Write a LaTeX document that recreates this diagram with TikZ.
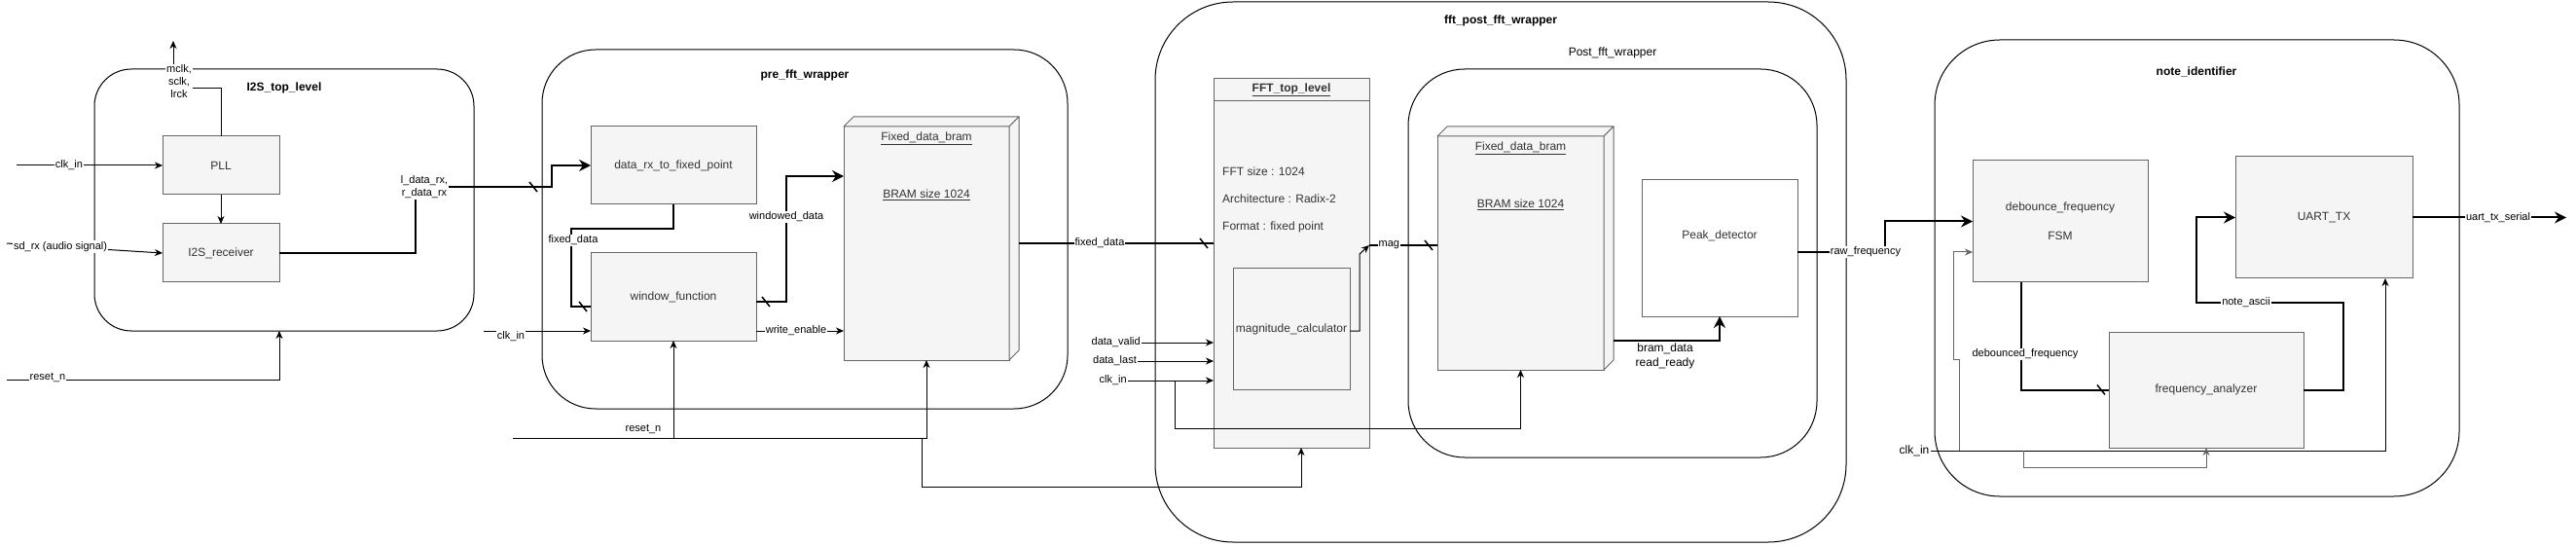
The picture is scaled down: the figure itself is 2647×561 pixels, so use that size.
\documentclass[tikz,border=0pt]{standalone}
\usepackage{fontspec}
\setmainfont{Liberation Sans}
\usetikzlibrary{arrows.meta,calc}
\definecolor{boxfill}{HTML}{F5F5F5}
\definecolor{boxline}{HTML}{666666}
\definecolor{boxtext}{HTML}{333333}
\tikzset{
  cont/.style={draw=black, line width=1pt, inner sep=0pt, outer sep=0pt},
  blk/.style={draw=boxline, fill=boxfill, line width=1pt, text=boxtext, font=\fontsize{12}{14}\selectfont, inner sep=0pt, outer sep=0pt, align=center},
  bramface/.style={draw=boxline, fill=boxfill, line width=1pt, line join=round},
  btxt/.style={text=boxtext, font=\fontsize{12}{14}\selectfont, inner sep=0pt},
  txtl/.style={text=boxtext, font=\fontsize{12}{14}\selectfont, inner sep=0pt, anchor=west},
  ttl/.style={text=black, font=\bfseries\fontsize{12}{14}\selectfont, inner sep=0pt},
  plaintxt/.style={text=black, font=\fontsize{12}{15}\selectfont, inner sep=1pt, align=center},
  lbl/.style={fill=white, text=black, font=\fontsize{11}{13}\selectfont, inner sep=1pt, align=center},
  sig/.style={draw=black, line width=1pt},
  bus/.style={draw=black, line width=2pt},
  arr/.style={-{Stealth[length=8pt,width=7pt,inset=2.5pt]}},
  barr/.style={-{Stealth[length=12pt,width=12pt,inset=4pt]}},
  pics/slashmk/.style={code={\draw[line width=1.5pt] (-4,-5) -- (4,5);}}
}
\begin{document}
\begin{tikzpicture}[x=1pt,y=-1pt]
\useasboundingbox (0,0) rectangle (2647,561);
\fill[white] (0,0) rectangle (2647,561);

% containers
\node[cont, minimum width=390, minimum height=269, rounded corners=38pt] (i2s) at (292,205.5) {};
\node[cont, minimum width=540, minimum height=369, rounded corners=55pt] (pre) at (827,235.5) {};
\node[cont, minimum width=710, minimum height=555, rounded corners=80pt] (fpw) at (1542,279.5) {};
\node[cont, minimum width=420, minimum height=399, rounded corners=58pt] (post) at (1657,270.5) {};
\node[cont, minimum width=539, minimum height=469, rounded corners=67pt] (note) at (2257.5,275.5) {};

\node[ttl] (i2sT) at (292,90) {I2S\_top\_level};
\node[ttl] (preT) at (827,77) {pre\_fft\_wrapper};
\node[ttl] (fpT) at (1542,21) {fft\_post\_fft\_wrapper};
\node[plaintxt] (postT) at (1657,54) {Post\_fft\_wrapper};
\node[ttl] (noteT) at (2257,74) {note\_identifier};

% blocks
\node[blk, minimum width=120, minimum height=60] (pll) at (227,170) {PLL};
\node[blk, minimum width=120, minimum height=60] (rx) at (227,260) {I2S\_receiver};
\node[blk, minimum width=170, minimum height=80] (dfp) at (692,170) {data\_rx\_to\_fixed\_point};
\node[blk, minimum width=170, minimum height=90] (wf) at (692,305) {window\_function};

\node[blk, minimum width=170, minimum height=240] (bram1) at (952,250) {};
\draw[bramface] (bram1.north west) -- ++(10,-10) -- ($(bram1.north east)+(10,-10)$) -- (bram1.north east) -- cycle;
\draw[bramface] (bram1.north east) -- ++(10,-10) -- ($(bram1.south east)+(10,-10)$) -- (bram1.south east) -- cycle;
\node[btxt] (b1a) at (952,142) {\underline{Fixed\_data\_bram}};
\node[btxt] (b1b) at (952,200) {\underline{BRAM size 1024}};

\node[blk, minimum width=160, minimum height=379] (fft) at (1327,270.5) {};
\draw[draw=boxline, line width=1pt] (fft.north west |- 0,104) -- (fft.north east |- 0,104);
\node[btxt, font=\bfseries\fontsize{12}{14}\selectfont] (fftT) at (1327,92.5) {\underline{FFT\_top\_level}};
\node[txtl] (f1) at (1256,176) {FFT size : 1024};
\node[txtl] (f2) at (1256,204) {Architecture : Radix-2};
\node[txtl] (f3) at (1256,233) {Format : fixed point};
\node[blk, minimum width=120, minimum height=124] (mag) at (1327,338) {magnitude\_calculator};

\node[blk, minimum width=171, minimum height=240] (bram2) at (1562.5,260) {};
\draw[bramface] (bram2.north west) -- ++(10,-10) -- ($(bram2.north east)+(10,-10)$) -- (bram2.north east) -- cycle;
\draw[bramface] (bram2.north east) -- ++(10,-10) -- ($(bram2.south east)+(10,-10)$) -- (bram2.south east) -- cycle;
\node[btxt] (b2a) at (1562.5,152) {\underline{Fixed\_data\_bram}};
\node[btxt] (b2b) at (1562.5,210) {\underline{BRAM size 1024}};

\node[blk, fill=white, minimum width=160, minimum height=140] (peak) at (1767,255) {};
\node[btxt] (peakT) at (1767,242) {Peak\_detector};

\node[blk, minimum width=180, minimum height=125] (deb) at (2117,227.5) {};
\node[btxt] (debA) at (2117,213) {debounce\_frequency};
\node[btxt] (debB) at (2117,242) {FSM};
\node[blk, minimum width=200, minimum height=119] (fa) at (2267,400.5) {frequency\_analyzer};
\node[blk, minimum width=182, minimum height=125] (uart) at (2388,223.5) {UART\_TX};

% ---- I2S connectors
\coordinate (clkA) at (17,170);
\draw[sig,arr] (clkA) -- node[lbl,pos=0.36]{clk\_in} (pll.west);
\coordinate (sdA) at (7,250);
\draw[sig,arr] (sdA) -- node[lbl,pos=0.344]{sd\_rx (audio signal)} (rx.west);
\draw[sig,arr] (pll.south) -- (rx.north);
\node[lbl, font=\fontsize{11}{13}\selectfont] (mclk) at (184,84) {mclk,\\sclk,\\lrck};
\draw[sig] (pll.north) |- ($(mclk.east)+(0,7)$);
\coordinate (mclkOut) at (178,42);
\draw[sig,arr] (mclkOut |- mclk.north) -- (mclkOut);
\node[lbl] (ldata) at (436,192) {l\_data\_rx,\\r\_data\_rx};
\draw[bus] (rx.east) -| ([xshift=-9pt]ldata.south);
\draw[bus,barr] (ldata.east) -- (567,192) |- (dfp.west);
\pic at (548,192) {slashmk};
\coordinate (rstA) at (7,390);
\draw[sig,arr] (rstA) -| (i2s.south -| 287,0);
\node[lbl] (rstAl) at (49,388) {reset\_n};

% ---- pre_fft connectors
\draw[bus] (dfp.south) -- ++(0,25) -| (587,315) -- (wf.west |- 0,315);
\node[lbl] (fdl) at (589,247) {fixed\_data};
\pic at (599,315) {slashmk};
\draw[bus,barr] (wf.east |- 0,310) -| (808,181) -- (bram1.west |- 0,181);
\node[lbl] (wdl) at (808,223) {windowed\_data};
\pic at (787,310) {slashmk};
\draw[sig,arr] (wf.east |- 0,340) -- node[lbl,pos=0.456]{write\_enable} (bram1.west |- 0,340);
\coordinate (clkB) at (497,340);
\draw[sig,arr] (clkB) -- (wf.west |- clkB);
\node[lbl] (clkBl) at (525,346) {clk\_in};
\coordinate (rstB) at (527,450);
\draw[sig,arr] (rstB) -| (bram1.south);
\draw[sig,arr] (wf.south |- rstB) -- (wf.south);
\node[lbl, fill=none] (rstBl) at (661,441) {reset\_n};
\coordinate (fftR) at ([xshift=10pt]fft.south);
\draw[sig,arr] (947,450) |- (fftR |- 0,500) -- (fftR);

% ---- fixed data to FFT
\draw[bus] ($(bram1.east)+(10,0)$) -- node[lbl,pos=0.415]{fixed\_data} (fft.west |- bram1.east);
\pic at (1237,250) {slashmk};

% ---- FFT inputs
\node[lbl, fill=none, anchor=east] (dv) at (1173,352) {data\_valid};
\node[lbl, fill=none, anchor=east] (dl) at (1169,371) {data\_last};
\node[lbl, fill=none, anchor=east] (dc) at (1159,391) {clk\_in};
\draw[sig,arr] (dv.east) -- (fft.west |- dv.east);
\draw[sig,arr] (dl.east) -- (fft.west |- dl.east);
\draw[sig,arr] (dc.east) -- (fft.west |- dc.east);
\draw[sig,arr] (dc.east -| 1207,0) |- (bram2.south |- 0,440) -- (bram2.south);

% ---- mag
\coordinate (magP) at (1407,252);
\draw[sig,arr] (mag.east |- 0,340) -- (1397,340) -- (1397,261) -- (magP);
\draw[bus] (magP) -- node[lbl,pos=0.29]{mag} (bram2.west |- magP);
\pic at (1468,252) {slashmk};

% ---- bram2 -> peak
\draw[bus,barr] ($(bram2.south east)+(10,-30)$) -| (peak.south);
\node[plaintxt] (brl) at (1711,365.5) {bram\_data\\read\_ready};

% ---- raw frequency
\draw[bus,barr] (peak.east |- 0,259) -- (1937,259) |- (deb.west);
\node[lbl] (rfl) at (1917,259) {raw\_frequency};

% ---- note identifier
\node[plaintxt] (clkD) at (1967,463) {clk\_in};
\draw[sig,arr] (clkD.east) -- (2451,463) -- (uart.south -| 2451,0);
\draw[sig,draw=boxline,arr] (2013,463) -- (2013,369) -- (2007,369) -- (2007,259) -- (deb.west |- 0,259);
\draw[sig,draw=boxline,arr] (2079,463) |- (fa.south |- 0,480) -- (fa.south);
\draw[bus] (deb.south -| 2077,0) |- (fa.west);
\node[lbl] (dbl) at (2081,364) {debounced\_frequency};
\pic at (2159,400.5) {slashmk};
\draw[bus,barr] (fa.east) -| (2408,311) -- (2257,311) |- (uart.west);
\node[lbl] (nal) at (2308,311) {note\_ascii};
\coordinate (uOut) at (2637,223.5);
\draw[bus,barr] (uart.east) -- node[lbl,pos=0.557]{uart\_tx\_serial} (uOut);
\end{tikzpicture}
\end{document}
